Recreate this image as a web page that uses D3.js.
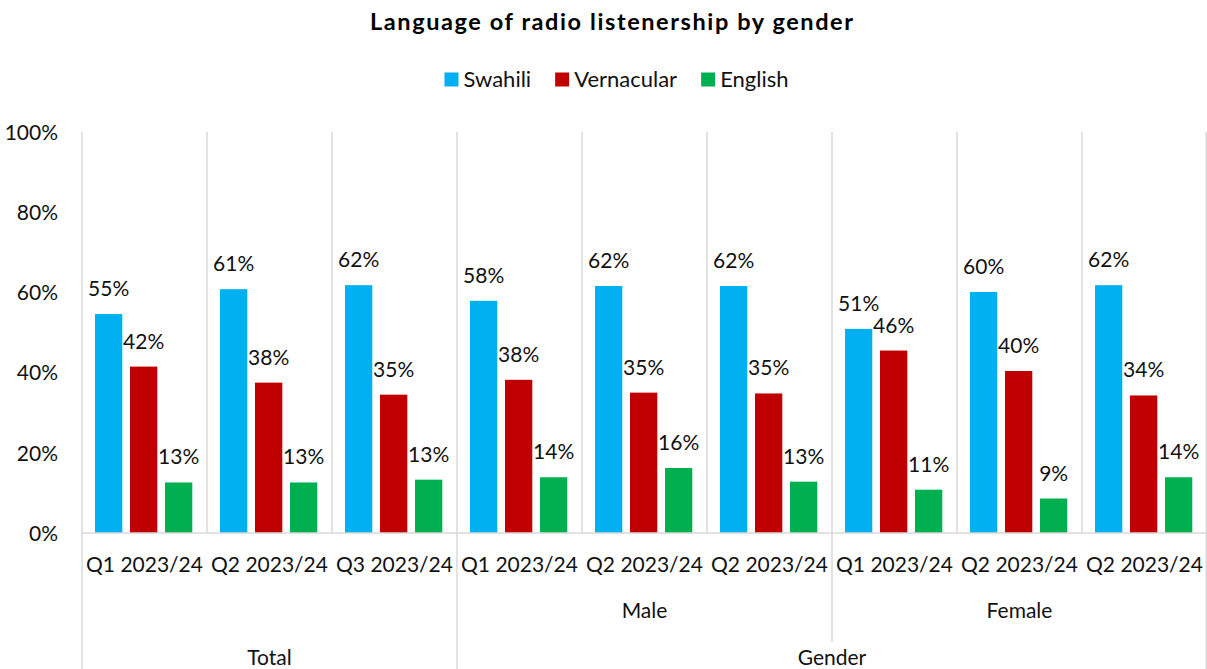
<!DOCTYPE html>
<html><head><meta charset="utf-8">
<script src="https://cdn.jsdelivr.net/npm/d3@7"></script>
<style>
html,body{margin:0;padding:0;background:#fff;}
svg{display:block;font-family:Lato, "Open Sans", sans-serif;}
</style></head>
<body><svg id="chart" width="1207" height="669"></svg>
<script>
const title = "Language of radio listenership by gender";
const categories = ["Q1 2023/24","Q2 2023/24","Q3 2023/24","Q1 2023/24","Q2 2023/24","Q2 2023/24","Q1 2023/24","Q2 2023/24","Q2 2023/24"];
const seriesNames = ["Swahili","Vernacular","English"];
const seriesColors = ["#00B0F0","#C00000","#00B050"];
const swahili    = [54.6, 60.8, 61.8, 57.9, 61.6, 61.6, 50.9, 60.1, 61.8];
const vernacular = [41.5, 37.5, 34.5, 38.2, 35.0, 34.8, 45.5, 40.4, 34.3];
const english    = [12.6, 12.6, 13.3, 13.9, 16.2, 12.8, 10.8, 8.6, 13.9];
const yTicks = [0, 20, 40, 60, 80, 100];
// level 2 groups: [label, first index, count]
const subGroups = [["Male", 3, 3], ["Female", 6, 3]];
const topGroups = [["Total", 0, 3], ["Gender", 3, 6]];

(function () {
const series = [swahili, vernacular, english];
const svg = d3.select("#chart");
const pL = 82, pR = 1207, pT = 132, pB = 533;
const gridColor = "#d9d9d9";
const fs = 21;

const x0 = d3.scaleBand().domain(d3.range(categories.length)).range([pL, pR]).padding(0);
const x1 = d3.scaleBand().domain(d3.range(seriesNames.length)).range([13, 110.3]).paddingInner(0.22).paddingOuter(0);
const y = d3.scaleLinear().domain([0, 100]).range([pB, pT]);

// vertical gridlines at category boundaries
const bounds = d3.range(categories.length + 1).map(i => Math.min(pL + i * x0.step(), pR - 0.75));
svg.append("g").selectAll("line").data(bounds).join("line")
  .attr("x1", d => d).attr("x2", d => d)
  .attr("y1", pT).attr("y2", pB)
  .attr("stroke", gridColor).attr("stroke-width", 1.5);

// y axis labels
const yAxis = d3.axisLeft(y).tickValues(yTicks).tickFormat(d => d + "%").tickSize(0).tickPadding(0);
const ya = svg.append("g").attr("transform", `translate(${pL - 24},0)`).call(yAxis);
ya.select(".domain").remove();
ya.selectAll("text").attr("font-size", fs).attr("font-family", "Lato").attr("fill", "#111").attr("dy", "0.35em");

// bars
series.forEach((vals, s) => {
  const g = svg.append("g");
  g.selectAll("rect").data(vals).join("rect")
    .attr("x", (d, i) => x0(i) + x1(s))
    .attr("width", x1.bandwidth())
    .attr("y", d => y(d))
    .attr("height", d => y(0) - y(d))
    .attr("fill", seriesColors[s]);
  g.selectAll("text").data(vals).join("text")
    .attr("x", (d, i) => x0(i) + x1(s) + x1.bandwidth() / 2)
    .attr("y", d => y(d) - 18)
    .attr("text-anchor", "middle")
    .attr("font-size", fs).attr("fill", "#111")
    .text(d => Math.round(d) + "%");
});

// x axis line
svg.append("line").attr("x1", pL).attr("x2", pR).attr("y1", pB).attr("y2", pB)
  .attr("stroke", gridColor).attr("stroke-width", 1.5);

// category labels
svg.append("g").selectAll("text").data(categories).join("text")
  .attr("x", (d, i) => x0(i) + x0.bandwidth() / 2)
  .attr("y", 572)
  .attr("text-anchor", "middle").attr("font-size", fs).attr("fill", "#111")
  .text(d => d);

// sub group labels
svg.append("g").selectAll("text").data(subGroups).join("text")
  .attr("x", d => x0(d[1]) + d[2] * x0.step() / 2)
  .attr("y", 618)
  .attr("text-anchor", "middle").attr("font-size", fs).attr("fill", "#111")
  .text(d => d[0]);
svg.append("g").selectAll("line").data(subGroups.slice(1)).join("line")
  .attr("x1", d => x0(d[1])).attr("x2", d => x0(d[1]))
  .attr("y1", pB).attr("y2", 642)
  .attr("stroke", gridColor).attr("stroke-width", 1.5);

// top group labels
svg.append("g").selectAll("text").data(topGroups).join("text")
  .attr("x", d => x0(d[1]) + d[2] * x0.step() / 2)
  .attr("y", 665)
  .attr("text-anchor", "middle").attr("font-size", fs).attr("fill", "#111")
  .text(d => d[0]);
const topBounds = [pL].concat(topGroups.map(d => x0(d[1]) + d[2] * x0.step()));
svg.append("g").selectAll("line").data(topBounds).join("line")
  .attr("x1", d => Math.min(d, pR - 0.75)).attr("x2", d => Math.min(d, pR - 0.75))
  .attr("y1", pB).attr("y2", 669)
  .attr("stroke", gridColor).attr("stroke-width", 1.5);

// title
svg.append("text").attr("x", 611.5).attr("y", 30).attr("text-anchor", "middle")
  .attr("font-size", 23.5).attr("font-weight", "bold").attr("fill", "#000")
  .attr("textLength", 483).attr("lengthAdjust", "spacing").text(title);

// legend
const leg = svg.append("g");
let lx = 0;
seriesNames.forEach((n, i) => {
  const it = leg.append("g").attr("transform", `translate(${lx},0)`);
  it.append("rect").attr("x", 0).attr("y", -14).attr("width", 14).attr("height", 14).attr("fill", seriesColors[i]);
  const t = it.append("text").attr("x", 19).attr("y", 0).attr("font-size", 22).attr("fill", "#111").text(n);
  lx += 19 + t.node().getComputedTextLength() + 24;
});
const legW = lx - 24;
leg.attr("transform", `translate(${616.5 - legW / 2},86.5)`);
})();
</script></body></html>
